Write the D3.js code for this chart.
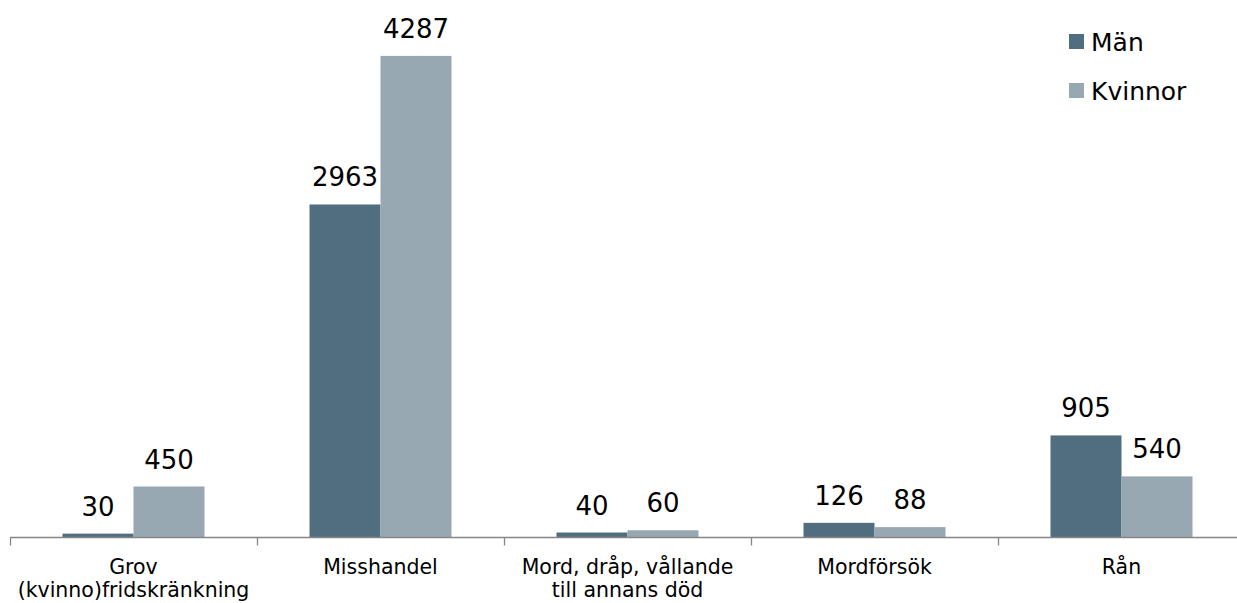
<!DOCTYPE html>
<html><head><meta charset="utf-8">
<script src="https://cdn.jsdelivr.net/npm/d3@7"></script>
<style>body{margin:0;background:#fff}svg{display:block}text{font-family:"DejaVu Sans",Verdana,sans-serif}</style>
</head><body><svg id="c" width="1237" height="603"></svg>
<script>
const categories = [["Grov","(kvinno)fridskränkning"],["Misshandel"],["Mord, dråp, vållande","till annans död"],["Mordförsök"],["Rån"]];
const seriesNames = ["Män","Kvinnor"];
const man = [30, 2963, 40, 126, 905];
const kvinnor = [450, 4287, 60, 88, 540];
const colors = ["#516e80","#98a8b2"];

const svg = d3.select("#c");
const x = d3.scaleBand().domain(d3.range(categories.length)).range([10, 1245]);
const barW = 71;
const y = d3.scaleLinear().domain([0, 4500]).range([537, 32]);
const series = [man, kvinnor];

series.forEach((vals, si) => {
  const g = svg.append("g");
  g.selectAll("rect").data(vals).join("rect")
    .attr("x", (d,i) => x(i) + x.bandwidth()/2 - barW + si*barW)
    .attr("width", barW)
    .attr("y", d => y(d))
    .attr("height", d => y(0) - y(d))
    .attr("fill", colors[si]);
  g.selectAll("text").data(vals).join("text")
    .attr("x", (d,i) => x(i) + x.bandwidth()/2 - barW/2 + si*barW)
    .attr("y", d => y(d) - 18)
    .attr("text-anchor","middle")
    .attr("font-size", 26)
    .attr("fill","#000")
    .text(d => d);
});

// axis
const ax = svg.append("g").attr("transform", "translate(0,537.5)");
ax.append("line").attr("x1",10).attr("x2",1245).attr("stroke","#868686").attr("stroke-width",1.3);
const tickPos = d3.range(categories.length+1).map(i => i < categories.length ? x(i) : x(categories.length-1)+x.bandwidth());
ax.selectAll("line.t").data(tickPos).join("line").attr("class","t")
  .attr("x1",d=>Math.round(d)+0.5).attr("x2",d=>Math.round(d)+0.5).attr("y1",0).attr("y2",8)
  .attr("stroke","#868686").attr("stroke-width",1.3);
categories.forEach((lines, i) => {
  const t = svg.append("text").attr("text-anchor","middle").attr("font-size",20.5).attr("fill","#000");
  lines.forEach((l, k) => t.append("tspan").attr("x", x(i)+x.bandwidth()/2).attr("y", 574 + k*23).text(l));
});

// legend
const leg = svg.append("g");
seriesNames.forEach((n, i) => {
  leg.append("rect").attr("x",1069).attr("y",34 + i*49).attr("width",15).attr("height",15).attr("fill",colors[i]);
  leg.append("text").attr("x",1091).attr("y",51 + i*49).attr("font-size",25).attr("fill","#000").text(n);
});
</script></body></html>
